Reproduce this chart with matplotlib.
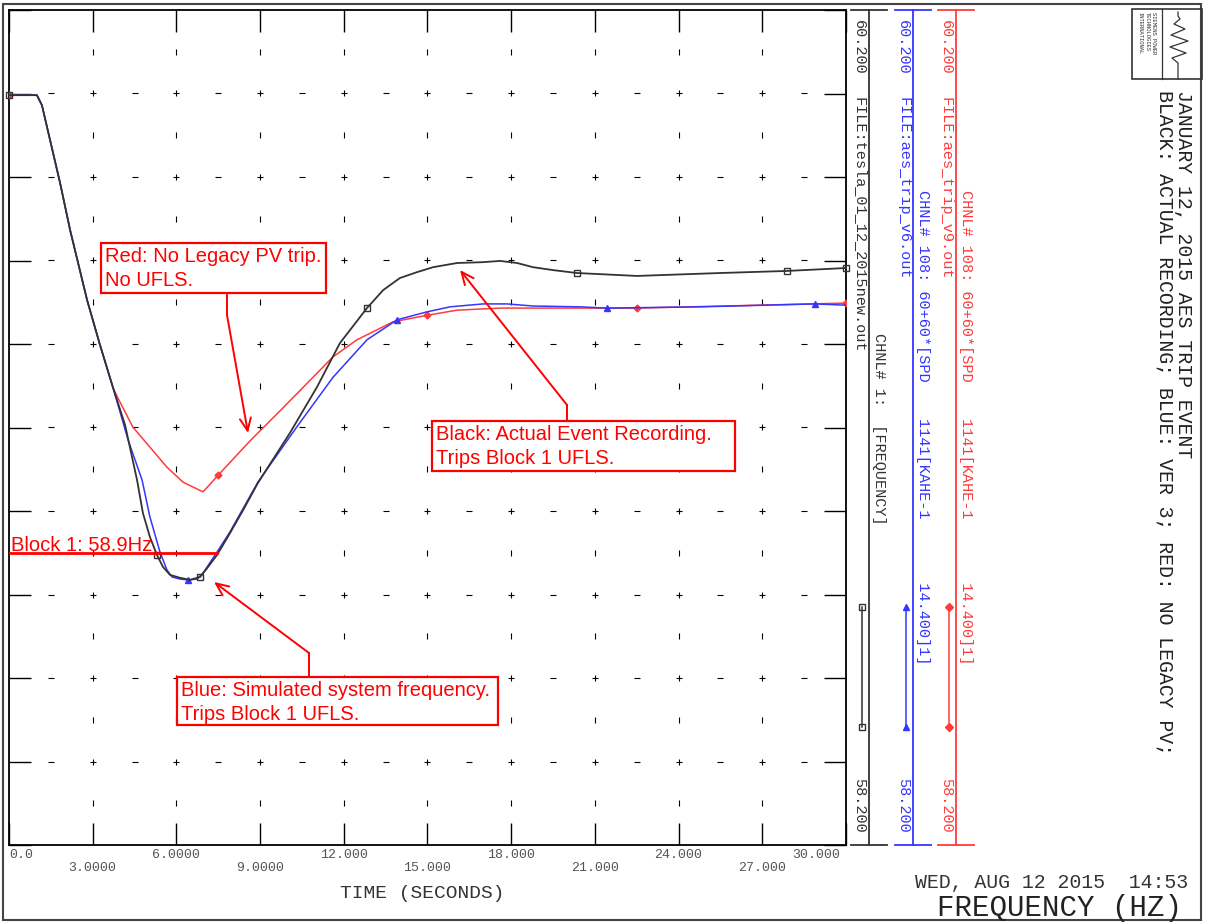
import numpy as np
import matplotlib
matplotlib.use("Agg")
import matplotlib.pyplot as plt
from matplotlib.patches import Rectangle

# ---------------- data ----------------
black_t = [0.00, 1.00, 1.18, 1.47, 1.83, 2.19, 2.80, 3.26, 3.73, 4.16, 4.59, 4.80, 5.05,
           5.30, 5.52, 5.77, 6.13, 6.49, 6.85, 7.10, 7.46, 7.92, 8.39, 8.92, 10.07, 11.04,
           11.86, 12.83, 13.41, 14.01, 14.62, 15.20, 16.06, 16.99, 17.60, 18.21, 18.78,
           19.50, 20.36, 22.51, 25.48, 27.89, 30.00]
black_f = [59.996, 59.996, 59.972, 59.889, 59.786, 59.673, 59.505, 59.398, 59.295, 59.206,
           59.074, 58.995, 58.938, 58.895, 58.866, 58.847, 58.840, 58.835, 58.842, 58.863,
           58.895, 58.947, 59.002, 59.067, 59.187, 59.297, 59.402, 59.486, 59.529, 59.558,
           59.572, 59.584, 59.594, 59.596, 59.599, 59.594, 59.584, 59.577, 59.570, 59.563,
           59.570, 59.575, 59.582]
black_mark_t = [0.00, 5.30, 6.85, 12.83, 20.36, 27.89, 30.00]

blue_t = [0.00, 1.00, 1.18, 1.47, 1.83, 2.19, 2.80, 3.26, 3.73, 4.27, 4.77, 5.05, 5.41,
          5.66, 5.84, 6.13, 6.42, 6.74, 6.95, 7.46, 7.92, 8.92, 10.30, 11.61, 12.83, 13.91,
          14.98, 15.81, 16.99, 17.85, 18.78, 20.47, 21.43, 24.77, 28.89, 30.00]
blue_f = [59.996, 59.996, 59.972, 59.889, 59.786, 59.673, 59.505, 59.398, 59.295, 59.170,
          59.074, 58.986, 58.902, 58.859, 58.842, 58.837, 58.835, 58.837, 58.851, 58.902,
          58.950, 59.069, 59.200, 59.320, 59.410, 59.458, 59.477, 59.489, 59.496, 59.496,
          59.491, 59.489, 59.486, 59.489, 59.496, 59.493]
blue_mark_t = [6.42, 13.91, 21.43, 28.89]

red_t = [0.00, 1.00, 1.18, 1.47, 1.83, 2.19, 2.80, 3.26, 3.73, 3.87, 4.44, 5.05, 5.66,
         6.24, 6.95, 7.15, 7.50, 8.64, 9.82, 11.61, 12.47, 13.76, 15.00, 16.06, 17.60,
         20.47, 22.50, 30.00]
red_f = [59.996, 59.996, 59.972, 59.889, 59.786, 59.673, 59.505, 59.398, 59.295, 59.275,
         59.201, 59.153, 59.105, 59.069, 59.046, 59.060, 59.086, 59.168, 59.247, 59.369,
         59.410, 59.453, 59.469, 59.481, 59.486, 59.486, 59.486, 59.498]
red_mark_t = [0.00, 7.50, 15.00, 22.50, 30.00]

block1_hz = 58.9
block1_end_t = 7.46

x_major = [3, 6, 9, 12, 15, 18, 21, 24, 27]
x_labels_top = [(0, "0.0"), (6, "6.0000"), (12, "12.000"), (18, "18.000"), (24, "24.000"), (30, "30.000")]
x_labels_low = [(3, "3.0000"), (9, "9.0000"), (15, "15.000"), (21, "21.000"), (27, "27.000")]
y_min, y_max = 58.2, 60.2

BLK = "#333333"
BLU = "#3535ff"
RED = "#ff3b3b"
MONO = "Liberation Mono"
SANS = "Liberation Sans"

W, H = 1205, 924
fig = plt.figure(figsize=(W / 100, H / 100), dpi=100)

# main plotting area, pixel box x 9..846, y 10..845
ax = fig.add_axes([9 / W, (H - 845) / H, 837 / W, 835 / H])
ax.set_xlim(0, 30)
ax.set_ylim(y_min, y_max)
ax.set_xticks(np.arange(0, 31, 3))
ax.set_yticks(np.round(np.arange(y_min, y_max + 0.01, 0.2), 1))
ax.tick_params(direction="in", length=16, width=1, top=True, right=True,
               labelbottom=False, labelleft=False, color="black")
for s in ax.spines.values():
    s.set_linewidth(1.3)

# PSS/E style grid marks
yM = np.arange(58.4, 60.05, 0.2)
yH = np.arange(58.3, 60.15, 0.2)
xH = np.arange(1.5, 29.0, 3)
gx, gy = np.meshgrid(x_major, yM)
ax.plot(gx.ravel(), gy.ravel(), "+", color="black", ms=4.5, mew=0.8, ls="none")
gx, gy = np.meshgrid(xH, yM)
ax.plot(gx.ravel(), gy.ravel(), "_", color="black", ms=4, mew=0.8, ls="none")
gx, gy = np.meshgrid(x_major, yH)
ax.plot(gx.ravel(), gy.ravel(), "|", color="black", ms=4, mew=0.8, ls="none")


def mark_idx(ts, marks):
    return [ts.index(m) for m in marks]


ax.plot(red_t, red_f, color=RED, lw=1.1, marker="D", ms=3.5, mfc=RED, mec=RED,
        markevery=mark_idx(red_t, red_mark_t), zorder=3)
ax.plot(blue_t, blue_f, color=BLU, lw=1.1, marker="^", ms=4.5, mfc=BLU, mec=BLU,
        markevery=mark_idx(blue_t, blue_mark_t), zorder=4)
ax.plot(black_t, black_f, color=BLK, lw=1.3, marker="s", ms=5, mfc="none", mec=BLK,
        markevery=mark_idx(black_t, black_mark_t), zorder=5, clip_on=False)

ax.plot([0, block1_end_t], [block1_hz, block1_hz], color="red", lw=2, zorder=6)

# ---------------- overlay in pixel coordinates ----------------
ov = fig.add_axes([0, 0, 1, 1], zorder=5)
ov.set_xlim(0, W)
ov.set_ylim(H, 0)
ov.axis("off")
ov.patch.set_alpha(0)

ov.add_patch(Rectangle((3, 4), 1198, 916, fill=False, ec="#444444", lw=1.5))

ov.text(11, 551, "Block 1: 58.9Hz", color="red", family=SANS, fontsize=14.5,
        ha="left", va="baseline")

# callout boxes
boxes = [
    ((101, 243, 225, 50), ["Red: No Legacy PV trip.", "No UFLS."],
     [(227, 293), (227, 315), (248, 433)]),
    ((432, 421, 303, 50), ["Black: Actual Event Recording.", "Trips Block 1 UFLS."],
     [(567, 421), (567, 405), (460, 270)]),
    ((177, 677, 321, 48), ["Blue: Simulated system frequency.", "Trips Block 1 UFLS."],
     [(309, 677), (309, 653), (214, 582)]),
]
for (bx, by, bw, bh), lines, path in boxes:
    ov.add_patch(Rectangle((bx, by), bw, bh, fc="white", ec="red", lw=1.6))
    for i, ln in enumerate(lines):
        ov.text(bx + 4, by + 19 + i * 24, ln, color="red", family=SANS,
                fontsize=14.5, ha="left", va="baseline")
    px = [p[0] for p in path]
    py = [p[1] for p in path]
    ov.plot(px[:-1], py[:-1], color="red", lw=1.4)
    ov.annotate("", xy=path[-1], xytext=path[-2],
                arrowprops=dict(arrowstyle="->,head_length=0.9,head_width=0.4",
                                color="red", lw=1.4, shrinkA=0, shrinkB=0))

# x tick labels
for t, lab in x_labels_top:
    xp = 9 + t * 837 / 30
    ha = "center"
    if t == 0:
        ha, xp = "left", 9
    elif t == 30:
        ha, xp = "right", 840
    ov.text(xp, 855, lab, family=MONO, fontsize=9.5, color="#555555", ha=ha, va="center")
for t, lab in x_labels_low:
    xp = 9 + t * 837 / 30
    ov.text(xp, 868, lab, family=MONO, fontsize=9.5, color="#555555", ha="center", va="center")
ov.text(422, 893, "TIME (SECONDS)", family=MONO, fontsize=14, color="#333333",
        ha="center", va="center")

# channel scales on the right of the plot
channels = [
    (869, BLK, "FILE:tesla_01_12_2015new.out", "CHNL# 1:  [FREQUENCY]", 333, "s"),
    (913, BLU, "FILE:aes_trip_v6.out",
     "CHNL# 108: 60+60*[SPD    1141[KAHE-1       14.400]1]", 190, "^"),
    (956, RED, "FILE:aes_trip_v9.out",
     "CHNL# 108: 60+60*[SPD    1141[KAHE-1       14.400]1]", 190, "D"),
]
for xl, col, ftxt, ctxt, cy, mk in channels:
    ov.plot([xl, xl], [10, 845], color=col, lw=1.3)
    ov.plot([xl - 18, xl + 18], [10, 10], color=col, lw=1.3)
    ov.plot([xl - 18, xl + 18], [845, 845], color=col, lw=1.3)
    ov.text(xl - 10, 20, "60.200", family=MONO, fontsize=11, color=col,
            rotation=270, ha="center", va="top")
    ov.text(xl - 10, 97, ftxt, family=MONO, fontsize=11, color=col,
            rotation=270, ha="center", va="top")
    ov.text(xl + 10, cy, ctxt, family=MONO, fontsize=11, color=col,
            rotation=270, ha="center", va="top")
    ov.text(xl - 10, 833, "58.200", family=MONO, fontsize=11, color=col,
            rotation=270, ha="center", va="bottom")
    ov.plot([xl - 7, xl - 7], [607, 727], color=col, lw=1.1, marker=mk,
            ms=5 if mk == "s" else 4, mfc="none" if mk == "s" else col, mec=col)

# title block
ov.text(1183, 90, "JANUARY 12, 2015 AES TRIP EVENT", family=MONO, fontsize=14.3,
        color="#222222", rotation=270, ha="center", va="top")
ov.text(1165, 90, "BLACK: ACTUAL RECORDING; BLUE: VER 3; RED: NO LEGACY PV;",
        family=MONO, fontsize=14.3, color="#222222", rotation=270, ha="center", va="top")

# logo
ov.add_patch(Rectangle((1132, 9), 70, 70, fill=False, ec="#333333", lw=1.2))
ov.plot([1162, 1162], [9, 79], color="#333333", lw=0.9)
wx = [1178, 1178, 1172, 1186, 1170, 1188, 1171, 1185, 1174, 1180, 1178, 1178]
wy = [79, 63, 58, 53, 47, 41, 35, 29, 24, 19, 16, 12]
ov.plot(wx, wy, color="#333333", lw=0.9)
for i, s in enumerate(["SIEMENS POWER", "TECHNOLOGIES", "INTERNATIONAL"]):
    ov.text(1154 - i * 7, 12, s, family=MONO, fontsize=4, color="#333333",
            rotation=270, ha="center", va="top")

ov.text(1188, 882, "WED, AUG 12 2015  14:53", family=MONO, fontsize=14.3,
        color="#333333", ha="right", va="center")
ov.text(1182, 908, "FREQUENCY (HZ)", family=MONO, fontsize=21, color="#222222",
        ha="right", va="center")

fig.savefig("out.png", dpi=100)
